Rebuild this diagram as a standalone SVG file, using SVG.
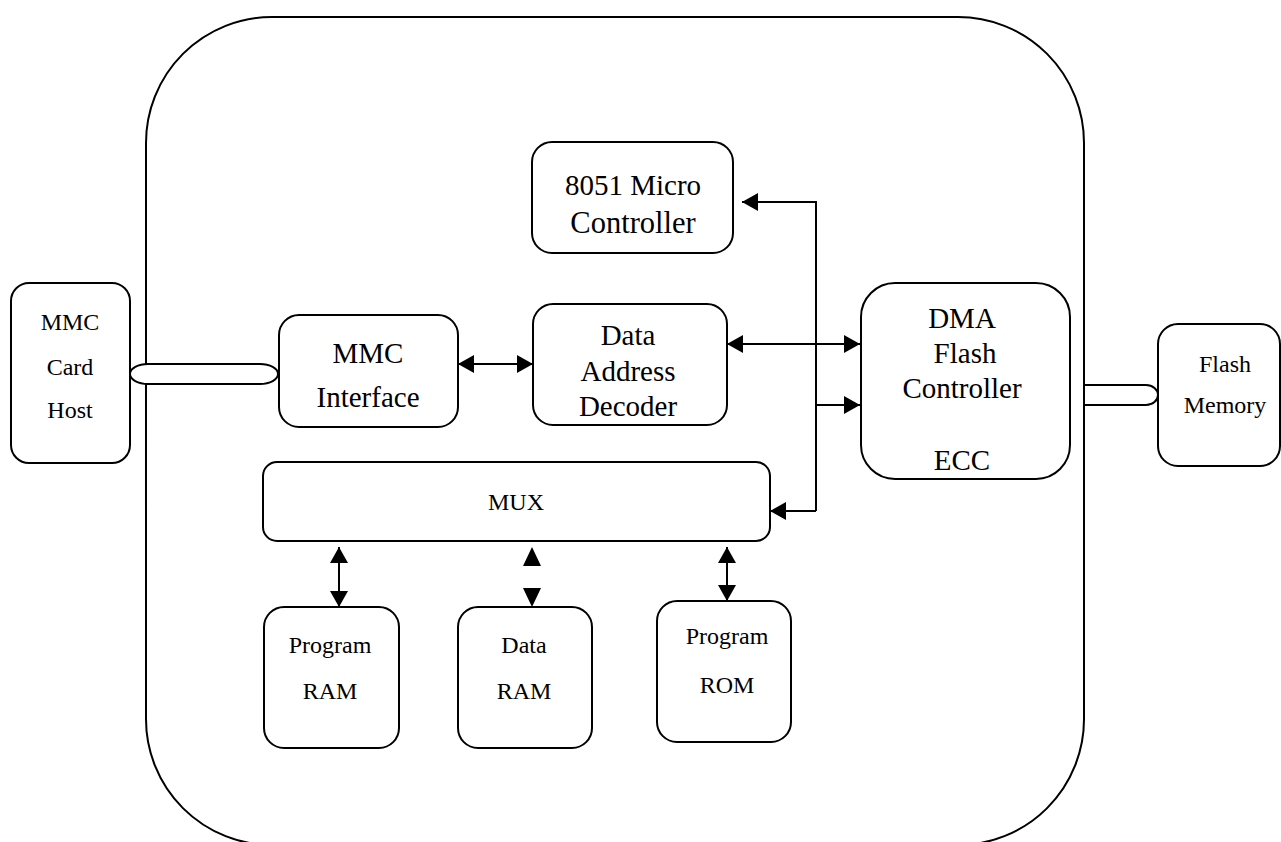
<svg xmlns="http://www.w3.org/2000/svg" width="1281" height="842" viewBox="0 0 1281 842">
<style>
.box{fill:#fff;stroke:#000;stroke-width:2}
.big{font-family:"Liberation Serif","Times New Roman",serif;font-size:29px;fill:#000;text-anchor:middle}
.small{font-family:"Liberation Serif","Times New Roman",serif;font-size:24px;fill:#000;text-anchor:middle}
.ln{fill:none;stroke:#000;stroke-width:2}
</style>
<defs>
<marker id="ah" markerUnits="userSpaceOnUse" viewBox="0 0 16 18" refX="16" refY="9" markerWidth="16" markerHeight="18" orient="auto-start-reverse">
<path d="M0,0 L16,9 L0,18 Z" fill="#000"/>
</marker>
</defs>
<rect id="chip" x="146" y="17" width="938" height="828" rx="126" ry="126" fill="none" stroke="#000" stroke-width="2"/>
<g id="mmc-card-host">
<rect class="box" x="11" y="283" width="119" height="180" rx="18"/>
<text class="small" x="70" y="330">MMC</text>
<text class="small" x="70" y="375">Card</text>
<text class="small" x="70" y="418">Host</text>
</g>
<g id="mmc-interface">
<rect class="box" x="279" y="315" width="179" height="112" rx="20"/>
<text class="big" x="368" y="363">MMC</text>
<text class="big" x="368" y="407">Interface</text>
</g>
<g id="decoder">
<rect class="box" x="533" y="304" width="194" height="121" rx="20"/>
<text class="big" x="628" y="345">Data</text>
<text class="big" x="628" y="381">Address</text>
<text class="big" x="628" y="416">Decoder</text>
</g>
<g id="micro">
<rect class="box" x="532" y="142" width="201" height="111" rx="20"/>
<text class="big" x="633" y="195">8051 Micro</text>
<text class="big" x="633" y="233" style="font-size:30.5px">Controller</text>
</g>
<g id="dma">
<rect class="box" x="861" y="283" width="209" height="196" rx="34"/>
<text class="big" x="962" y="328">DMA</text>
<text class="big" x="965" y="363">Flash</text>
<text class="big" x="962" y="398">Controller</text>
<text class="big" x="962" y="470">ECC</text>
</g>
<g id="flash-memory">
<rect class="box" x="1158" y="324" width="122" height="142" rx="20"/>
<text class="small" x="1225" y="372">Flash</text>
<text class="small" x="1225" y="413">Memory</text>
</g>
<g id="mux">
<rect class="box" x="263" y="462" width="507" height="79" rx="14"/>
<text class="small" x="516" y="510">MUX</text>
</g>
<g id="program-ram">
<rect class="box" x="264" y="607" width="135" height="141" rx="20"/>
<text class="small" x="330" y="653">Program</text>
<text class="small" x="330" y="699">RAM</text>
</g>
<g id="data-ram">
<rect class="box" x="458" y="607" width="134" height="141" rx="20"/>
<text class="small" x="524" y="653">Data</text>
<text class="small" x="524" y="699">RAM</text>
</g>
<g id="program-rom">
<rect class="box" x="657" y="601" width="134" height="141" rx="20"/>
<text class="small" x="727" y="644">Program</text>
<text class="small" x="727" y="693">ROM</text>
</g>
<g id="connectors">
<rect class="box" x="130" y="364" width="148" height="20" rx="18" ry="10"/>
<path class="ln" d="M1085,385 H1146 A12,10 0 0 1 1146,405 H1085"/>
<line class="ln" x1="458" y1="364" x2="533" y2="364" marker-start="url(#ah)" marker-end="url(#ah)"/>
<line class="ln" x1="727" y1="344" x2="860" y2="344" marker-start="url(#ah)" marker-end="url(#ah)"/>
<polyline class="ln" points="816,511 816,202 742,202" marker-end="url(#ah)"/>
<line class="ln" x1="816" y1="405" x2="860" y2="405" marker-end="url(#ah)"/>
<line class="ln" x1="816" y1="511" x2="770" y2="511" marker-end="url(#ah)"/>
<line class="ln" x1="339" y1="547" x2="339" y2="607" marker-start="url(#ah)" marker-end="url(#ah)"/>
<line class="ln" x1="727" y1="547" x2="727" y2="601" marker-start="url(#ah)" marker-end="url(#ah)"/>
<path d="M532,547 L541,566 L523,566 Z M532,607 L541,588 L523,588 Z" fill="#000"/>
</g>
</svg>
